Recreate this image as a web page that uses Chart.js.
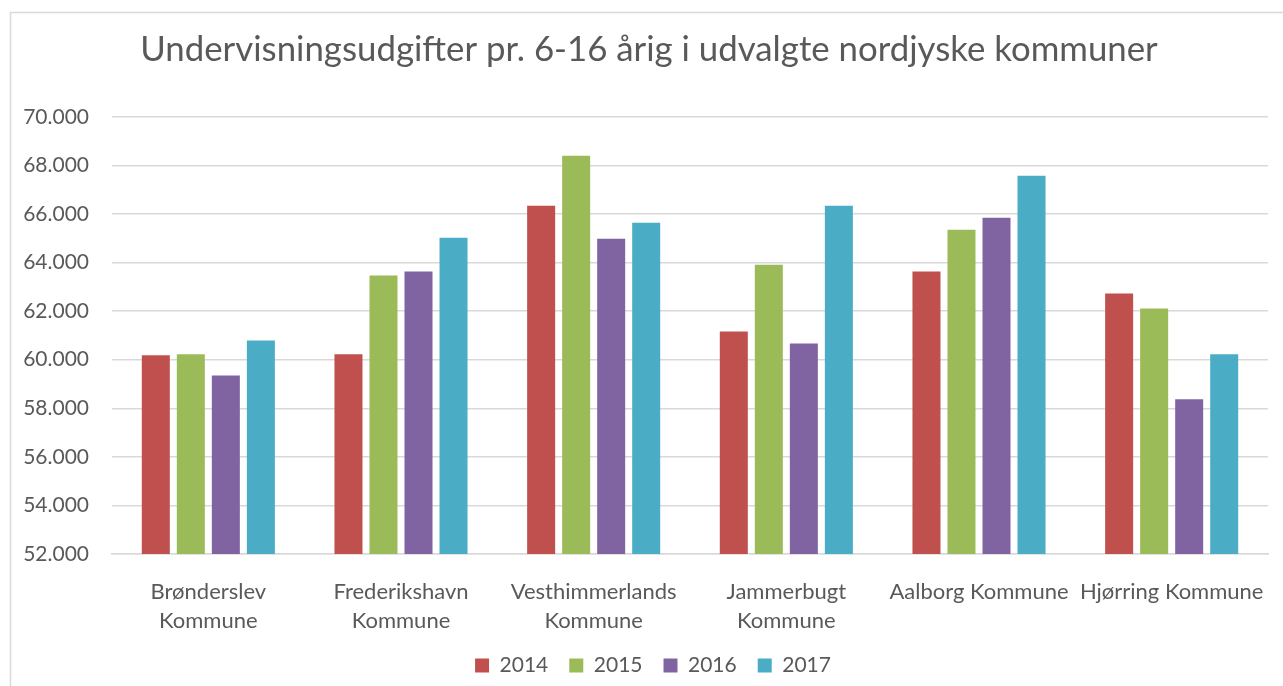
<!DOCTYPE html>
<html>
<head>
<meta charset="utf-8">
<script src="https://cdn.jsdelivr.net/npm/chart.js@4.4.1/dist/chart.umd.min.js"></script>
<style>
  html, body { margin: 0; padding: 0; background: #ffffff; overflow: hidden; }
  #wrap { position: absolute; left: 0; top: 0; width: 1283px; height: 686px; }
</style>
</head>
<body>
<div id="wrap"><canvas id="c" width="1283" height="686"></canvas></div>
<script>
const categories = [
  ["Brønderslev", "Kommune"],
  ["Frederikshavn", "Kommune"],
  ["Vesthimmerlands", "Kommune"],
  ["Jammerbugt", "Kommune"],
  "Aalborg Kommune",
  "Hjørring Kommune"
];
const seriesNames = ["2014", "2015", "2016", "2017"];
const values2014 = [60180, 60220, 66340, 61160, 63630, 62720];
const values2015 = [60220, 63460, 68390, 63910, 65350, 62110];
const values2016 = [59350, 63630, 64980, 60670, 65840, 58370];
const values2017 = [60790, 65020, 65640, 66340, 67570, 60220];
const yMin = 52000, yMax = 70000, yStep = 2000;
const titleText = "Undervisningsudgifter pr. 6-16 årig i udvalgte nordjyske kommuner";

const colors = ["#C0504D", "#9BBB59", "#8064A2", "#4BACC6"];
const seriesValues = [values2014, values2015, values2016, values2017];
const FONT = "Lato";
const TXT = "#595959";

function fmt(v) {
  return String(Math.round(v)).replace(/\B(?=(\d{3})+(?!\d))/g, ".");
}

const frame = {
  id: "frame",
  beforeDraw(chart) {
    const ctx = chart.ctx;
    ctx.save();
    ctx.fillStyle = "#ffffff";
    ctx.fillRect(0, 0, chart.width, chart.height);
    ctx.strokeStyle = "#D9D9D9";
    ctx.lineWidth = 1.5;
    ctx.strokeRect(10.5, 12.5, chart.width + 20, chart.height + 20);
    ctx.restore();
  },
  afterLayout(chart) {
    // nudge legend and title slightly right, as in the reference
    if (chart.legend) {
      chart.legend.left += 28;
    }
    if (chart.titleBlock) {
      chart.titleBlock.left += 10;
      chart.titleBlock.right += 10;
    }
  }
};

new Chart(document.getElementById("c"), {
  type: "bar",
  data: {
    labels: categories,
    datasets: seriesNames.map((n, i) => ({
      label: n,
      data: seriesValues[i],
      backgroundColor: colors[i],
      borderWidth: 0,
      barPercentage: 0.8,
      categoryPercentage: 0.727
    }))
  },
  options: {
    responsive: false,
    animation: false,
    devicePixelRatio: 1,
    layout: { padding: { left: 10, right: 15, top: 14, bottom: 0 } },
    plugins: {
      title: {
        display: true,
        text: titleText,
        color: TXT,
        font: { family: FONT, size: 34.8, weight: "normal", lineHeight: 1.2 },
        padding: { top: 15, bottom: 46 }
      },
      legend: {
        position: "bottom",
        labels: {
          color: TXT,
          font: { family: FONT, size: 21 },
          boxWidth: 14,
          boxHeight: 14,
          padding: 21
        }
      },
      tooltip: { enabled: false }
    },
    scales: {
      x: {
        afterFit(scale) {
          scale.height = 80;
          scale.paddingLeft = 0;
          scale.paddingRight = 0;
        },
        grid: { display: false, drawTicks: false },
        border: { display: true, color: "#D9D9D9", width: 1.5 },
        ticks: {
          color: TXT,
          font: { family: FONT, size: 22, lineHeight: 1.32 },
          padding: 23,
          maxRotation: 0,
          minRotation: 0,
          autoSkip: false
        }
      },
      y: {
        min: yMin,
        max: yMax,
        afterFit(scale) { scale.width = 102; },
        grid: { color: "#D9D9D9", lineWidth: 1.5, drawTicks: false },
        border: { display: false },
        ticks: {
          stepSize: yStep,
          color: TXT,
          font: { family: FONT, size: 21 },
          padding: 23,
          callback: (v) => fmt(v)
        }
      }
    }
  },
  plugins: [frame]
});
</script>
</body>
</html>
